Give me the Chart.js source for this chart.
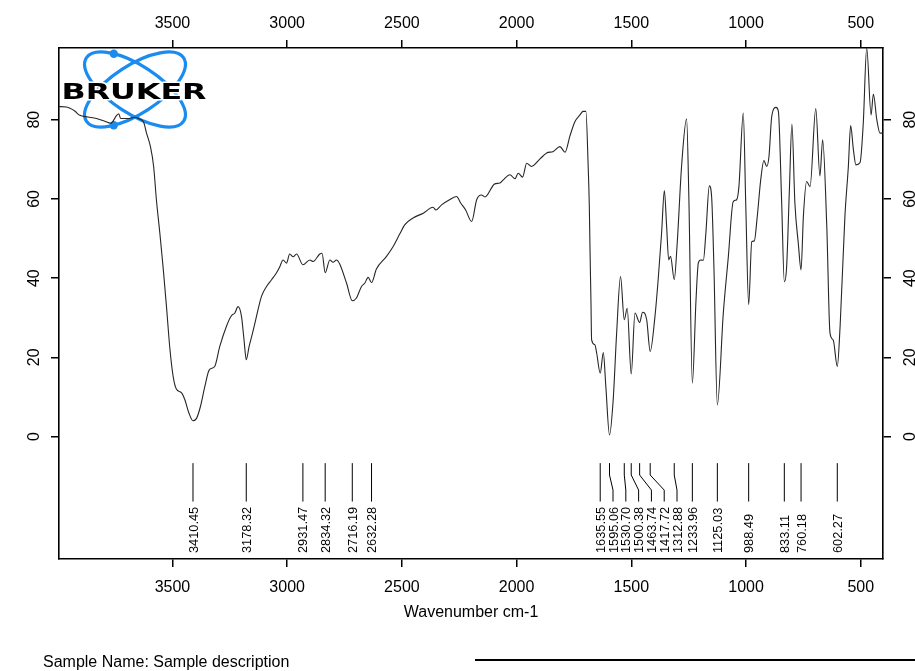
<!DOCTYPE html>
<html>
<head>
<meta charset="utf-8">
<script src="https://cdn.jsdelivr.net/npm/chart.js@4.4.0/dist/chart.umd.min.js"></script>
<style>
  html, body { margin: 0; padding: 0; background: #ffffff; }
  #wrap { position: relative; width: 915px; height: 671px; }
</style>
</head>
<body>
<div id="wrap"><canvas id="ir" width="915" height="671"></canvas></div>
<script>
// IR spectrum: wavenumber (cm-1) and transmittance (%)
const wavenumbers = [
  3994.5, 3962, 3926, 3904, 3868, 3831, 3795, 3769, 3744, 3734, 3726, 3694, 3664, 3643, 3625,
  3613, 3596, 3582, 3570, 3555, 3541, 3526, 3512, 3497, 3483, 3461, 3446, 3428, 3410.45, 3395,
  3378, 3359, 3340, 3316, 3294, 3265, 3243, 3228, 3214, 3199, 3188, 3178.32, 3166, 3151, 3134,
  3112, 3090, 3068, 3047, 3032, 3018, 3003, 2989, 2974, 2959, 2931.47, 2901, 2887, 2858, 2848,
  2834.32, 2814, 2800, 2785, 2771, 2741, 2716.19, 2698, 2676, 2662, 2647, 2632.28, 2611, 2567, 2538,
  2509, 2487, 2451, 2407, 2364, 2352, 2327, 2298, 2262, 2243, 2222, 2196, 2174, 2153, 2138,
  2095, 2073, 2058, 2029, 2007, 1993, 1974, 1956, 1935, 1898, 1869, 1840, 1811, 1789, 1768,
  1746, 1724, 1710, 1698, 1688, 1683, 1680, 1676, 1673, 1659, 1651, 1635.55, 1622, 1611, 1595.06,
  1579, 1564, 1547, 1530.70, 1518, 1500.38, 1484, 1463.74, 1451, 1433, 1417.72, 1397, 1383, 1368, 1356,
  1346, 1337, 1329, 1312.88, 1300, 1281, 1259, 1249, 1233.96, 1218, 1208, 1198, 1186, 1175, 1160,
  1150, 1140, 1125.03, 1099, 1077, 1056, 1041, 1031, 1012, 1001, 988.49, 975, 964, 951, 936,
  922, 910, 900, 888, 869, 859, 845, 833.11, 823, 811, 800, 787, 772, 760.18, 750,
  736, 721, 696, 678, 666, 648, 634, 620, 602.27, 590, 569, 554, 544, 532, 521,
  503, 489, 474, 455, 445, 430, 416, 403
];
const transmittance = [
  83.3, 83.2, 82.2, 81.1, 80.7, 80.3, 79.6, 79.1, 81.0, 81.5, 80.3, 80.3, 80.6, 80.2, 79.3,
  76.6, 73.2, 68.2, 59.8, 51.4, 42.9, 32.8, 22.7, 15.2, 12.0, 11.1, 9.3, 5.9, 4.0, 4.6,
  7.6, 12.6, 16.8, 17.7, 22.7, 27.8, 30.5, 31.2, 32.8, 30.3, 24.4, 19.4, 22.7, 26.1, 30.3,
  35.4, 37.9, 39.6, 41.3, 42.9, 44.6, 43.8, 46.1, 45.4, 46.1, 43.4, 44.6, 44.2, 46.1, 46.3,
  41.4, 44.6, 44.0, 44.6, 43.6, 38.7, 34.3, 35.0, 37.9, 38.7, 40.2, 38.9, 42.3, 45.5, 48.0,
  51.2, 53.5, 55.2, 56.4, 57.9, 57.2, 58.5, 59.6, 60.6, 58.9, 57.2, 54.3, 59.8, 61.0, 60.5,
  63.8, 64.0, 64.8, 66.1, 65.1, 66.5, 65.5, 69.0, 68.2, 70.1, 71.6, 72.0, 73.2, 71.8, 75.8,
  79.5, 81.2, 82.1, 82.1, 68.2, 58.1, 47.1, 34.5, 24.4, 23.2, 21.1, 16.0, 21.2, 12.6, 0.4,
  9.3, 26.1, 40.4, 29.5, 32.4, 15.8, 31.2, 28.8, 31.4, 29.5, 21.5, 30.3, 39.6, 51.4, 62.1,
  53.0, 44.6, 45.5, 39.6, 48.8, 68.2, 80.2, 59.8, 13.5, 34.5, 43.8, 44.6, 44.5, 51.4, 63.3,
  60.6, 42.9, 8.0, 31.2, 45.5, 59.3, 59.8, 63.1, 81.7, 58.1, 33.3, 49.2, 49.4, 55.6, 64.8,
  69.7, 68.2, 70.7, 80.8, 83.1, 82.1, 59.8, 39.1, 42.9, 62.3, 78.9, 58.9, 48.7, 42.1, 55.6,
  64.4, 63.1, 82.8, 65.8, 74.9, 53.0, 26.1, 24.4, 17.7, 27.8, 55.6, 68.2, 78.5, 72.4, 68.6,
  69.2, 79.1, 98.1, 81.2, 86.5, 80.0, 76.6, 76.6
];

// Picked peaks (cm-1)
const peakWavenumbers = [
  3410.45, 3178.32, 2931.47, 2834.32, 2716.19, 2632.28,
  1635.55, 1595.06, 1530.70, 1500.38, 1463.74, 1417.72, 1312.88, 1233.96,
  1125.03, 988.49, 833.11, 760.18, 602.27
];

const xTickValues = [3500, 3000, 2500, 2000, 1500, 1000, 500];
const yTickValues = [0, 20, 40, 60, 80];
const xRange = [403, 3994.5];
const yRange = [-30.9, 98.1];
const xTitle = 'Wavenumber cm-1';
const sampleCaption = 'Sample Name: Sample description';
const logoText = 'BRUKER';

const FONT = '"Liberation Sans", Arial, Helvetica, sans-serif';
const INK = '#000000';
const ORBIT = '#1a8cf0';

// peak marker geometry, in transmittance units
const PEAK_TICK_TOP = -6.7;
const PEAK_BEND_1 = -9.7;
const PEAK_BEND_2 = -13.5;
const PEAK_TICK_BOTTOM = -16.4;
const PEAK_TEXT_START = -29.4;
const PEAK_LABEL_GAP = 12.8;

function fixedTicks(values) {
  return function (scale) { scale.ticks = values.map(v => ({ value: v })); };
}

function axisOptions(position, range, ticks, size) {
  const horizontal = position === 'top' || position === 'bottom';
  return {
    type: 'linear',
    position: position,
    axis: horizontal ? 'x' : 'y',
    reverse: horizontal,
    min: range[0],
    max: range[1],
    afterBuildTicks: fixedTicks(ticks),
    afterFit: function (scale) {
      if (horizontal) scale.height = size; else scale.width = size;
    },
    grid: { display: true, drawOnChartArea: false, drawTicks: true, tickLength: 8, color: INK, lineWidth: 1.5 },
    border: { display: true, color: INK, width: 1.6 },
    ticks: { display: false }
  };
}

// rotated text reading bottom to top, glyphs centred on cx
function upText(ctx, text, cx, y, size, align) {
  ctx.save();
  ctx.translate(cx, y);
  ctx.rotate(-Math.PI / 2);
  ctx.font = size + 'px ' + FONT;
  ctx.textAlign = align;
  ctx.textBaseline = 'alphabetic';
  ctx.fillText(text, 0, 0.358 * size);
  ctx.restore();
}

function drawLogo(ctx, area) {
  const cx = area.left + 76, cy = area.top + 41.5;
  const a = 58, b = 24, tilt = 33 * Math.PI / 180;
  ctx.save();
  ctx.strokeStyle = ORBIT;
  ctx.lineWidth = 3.2;
  [tilt, -tilt].forEach(r => {
    ctx.beginPath();
    ctx.ellipse(cx, cy, a, b, r, 0, Math.PI * 2);
    ctx.stroke();
  });
  // electrons sitting on each orbit
  const t = 230 * Math.PI / 180;
  const ex = a * Math.cos(t) * Math.cos(tilt) - b * Math.sin(t) * Math.sin(tilt);
  const ey = a * Math.cos(t) * Math.sin(tilt) + b * Math.sin(t) * Math.cos(tilt);
  ctx.fillStyle = ORBIT;
  [[ex, ey], [ex, -ey]].forEach(p => {
    ctx.beginPath();
    ctx.arc(cx + p[0], cy + p[1], 4.2, 0, Math.PI * 2);
    ctx.fill();
  });
  // word mark, stretched wide
  ctx.font = 'bold 22px "DejaVu Sans", sans-serif';
  const w = ctx.measureText(logoText).width;
  const sx = 145 / w;
  ctx.translate(area.left + 75, area.top + 51);
  ctx.scale(sx, 1);
  ctx.textAlign = 'center';
  ctx.textBaseline = 'alphabetic';
  ctx.lineJoin = 'round';
  ctx.strokeStyle = '#ffffff';
  ctx.lineWidth = 3;
  ctx.strokeText(logoText, 0, 0);
  ctx.fillStyle = '#000000';
  ctx.fillText(logoText, 0, 0);
  ctx.restore();
}

const decorations = {
  id: 'decorations',
  beforeDatasetsDraw(chart) {
    drawLogo(chart.ctx, chart.chartArea);
  },
  afterDraw(chart) {
    const ctx = chart.ctx;
    const area = chart.chartArea;
    const xs = chart.scales.x;
    const ys = chart.scales.y;
    ctx.save();
    ctx.fillStyle = INK;

    // axis numbers
    ctx.font = '16px ' + FONT;
    ctx.textAlign = 'center';
    ctx.textBaseline = 'alphabetic';
    xTickValues.forEach(v => {
      const px = xs.getPixelForValue(v);
      ctx.fillText(String(v), px, area.bottom + 27.3 + 5.7);
      ctx.fillText(String(v), px, area.top - 25.3 + 5.7);
    });
    yTickValues.forEach(v => {
      const py = ys.getPixelForValue(v);
      upText(ctx, String(v), area.left - 26, py, 16, 'center');
      upText(ctx, String(v), area.right + 26, py, 16, 'center');
    });

    // axis title and caption
    ctx.font = '16px ' + FONT;
    ctx.textAlign = 'center';
    ctx.fillText(xTitle, (area.left + area.right) / 2, area.bottom + 52.7 + 5.7);
    ctx.textAlign = 'left';
    ctx.fillText(sampleCaption, 43, 667);
    ctx.strokeStyle = INK;
    ctx.lineWidth = 2;
    ctx.beginPath();
    ctx.moveTo(475, 660);
    ctx.lineTo(915, 660);
    ctx.stroke();

    // peak markers with spread-out labels
    const peaks = peakWavenumbers
      .map(w => ({ w: w, px: xs.getPixelForValue(w) }))
      .sort((p, q) => p.px - q.px);
    let prev = -Infinity;
    peaks.forEach(p => {
      p.lx = Math.max(p.px, prev + PEAK_LABEL_GAP);
      prev = p.lx;
    });
    const yTop = ys.getPixelForValue(PEAK_TICK_TOP);
    const yB1 = ys.getPixelForValue(PEAK_BEND_1);
    const yB2 = ys.getPixelForValue(PEAK_BEND_2);
    const yBot = ys.getPixelForValue(PEAK_TICK_BOTTOM);
    const yText = ys.getPixelForValue(PEAK_TEXT_START);
    ctx.lineWidth = 1;
    peaks.forEach(p => {
      ctx.beginPath();
      ctx.moveTo(p.px, yTop);
      if (Math.abs(p.lx - p.px) > 0.5) {
        ctx.lineTo(p.px, yB1);
        ctx.lineTo(p.lx, yB2);
      }
      ctx.lineTo(p.lx, yBot);
      ctx.stroke();
      upText(ctx, p.w.toFixed(2), p.lx, yText, 12.8, 'left');
    });
    ctx.restore();
  }
};

const spectrum = wavenumbers.map((w, i) => ({ x: w, y: transmittance[i] }));

new Chart(document.getElementById('ir'), {
  type: 'line',
  data: {
    datasets: [{
      data: spectrum,
      borderColor: '#262626',
      borderWidth: 1.1,
      pointRadius: 0,
      fill: false,
      cubicInterpolationMode: 'monotone'
    }]
  },
  options: {
    responsive: false,
    animation: false,
    devicePixelRatio: 1,
    layout: { padding: 0 },
    plugins: { legend: { display: false }, tooltip: { enabled: false } },
    scales: {
      x: axisOptions('bottom', xRange, xTickValues, 112),
      x2: axisOptions('top', xRange, xTickValues, 48),
      y: axisOptions('left', yRange, yTickValues, 59),
      y2: axisOptions('right', yRange, yTickValues, 32)
    }
  },
  plugins: [decorations]
});
</script>
</body>
</html>
